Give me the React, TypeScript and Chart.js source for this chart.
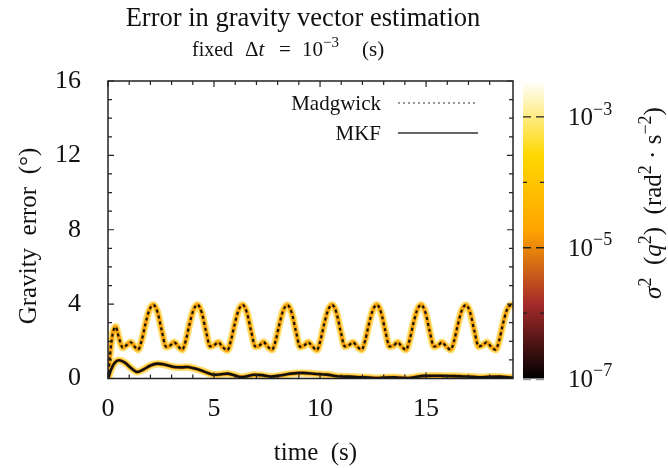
import React, { useEffect, useRef } from 'react';
import { Chart, registerables } from 'chart.js';
Chart.register(...registerables);

// ---- data ----
const madgwickTime = [
  0, 0.1, 0.22, 0.36, 0.5, 0.7, 0.88, 1.07, 1.25,
  1.42, 1.59, 1.76, 1.94, 2.14, 2.34, 2.54, 2.74, 2.94, 3.12, 3.32,
  3.5, 3.67, 3.84, 4.02, 4.22, 4.42, 4.62, 4.82, 5.02, 5.2, 5.4,
  5.63, 5.8, 5.97, 6.15, 6.35, 6.55, 6.75, 6.95, 7.15, 7.33, 7.53,
  7.74, 7.91, 8.08, 8.26, 8.46, 8.66, 8.86, 9.06, 9.26, 9.44, 9.64,
  9.85, 10.02, 10.19, 10.37, 10.57, 10.77, 10.97, 11.17, 11.37, 11.55, 11.75,
  11.96, 12.13, 12.3, 12.48, 12.68, 12.88, 13.08, 13.28, 13.48, 13.66, 13.86,
  14.05, 14.22, 14.39, 14.57, 14.77, 14.97, 15.17, 15.37, 15.57, 15.75, 15.95,
  16.16, 16.33, 16.5, 16.68, 16.88, 17.08, 17.28, 17.48, 17.68, 17.86, 18.06,
  18.28, 18.45, 18.62, 18.8, 19.0, 19.09,
];
const madgwickErr = [
  0, 1.3, 2.4, 2.78, 2.25, 1.65, 1.8, 1.95, 1.72,
  1.55, 2.05, 2.9, 3.65, 3.96, 3.55, 2.55, 1.7, 1.78, 1.95, 1.72,
  1.55, 2.05, 2.9, 3.65, 3.97, 3.55, 2.55, 1.72, 1.8, 1.95, 1.7,
  1.52, 2.05, 2.9, 3.65, 3.96, 3.55, 2.55, 1.72, 1.78, 1.96, 1.72,
  1.55, 2.05, 2.9, 3.65, 3.95, 3.55, 2.55, 1.7, 1.78, 1.95, 1.72,
  1.53, 2.05, 2.9, 3.65, 3.96, 3.55, 2.55, 1.72, 1.8, 1.95, 1.72,
  1.55, 2.05, 2.9, 3.65, 3.96, 3.55, 2.55, 1.72, 1.78, 1.95, 1.7,
  1.54, 2.05, 2.9, 3.65, 3.96, 3.55, 2.55, 1.72, 1.78, 1.95, 1.72,
  1.55, 2.05, 2.9, 3.65, 3.95, 3.55, 2.55, 1.72, 1.8, 1.95, 1.72,
  1.55, 2.05, 2.9, 3.65, 3.95, 3.9,
];
const mkfTime = [
  0, 0.15, 0.3, 0.52, 0.8, 1.1, 1.38, 1.7, 2.0, 2.33, 2.7, 3.11, 3.45, 3.74,
  4.05, 4.37, 4.7, 5.0, 5.3, 5.63, 5.95, 6.26, 6.55, 6.89, 7.25, 7.67, 8.1,
  8.62, 9.17, 9.8, 10.3, 10.94, 11.4, 11.9, 12.3, 12.67, 13.05, 13.46, 13.8,
  14.09, 14.5, 14.87, 15.35, 15.82, 16.3, 16.76, 17.2, 17.55, 18.0, 18.49,
  18.96, 19.09,
];
const mkfErr = [
  0, 0.5, 0.82, 0.98, 0.85, 0.55, 0.35, 0.5, 0.7, 0.8, 0.74, 0.62, 0.6, 0.62,
  0.55, 0.44, 0.3, 0.2, 0.22, 0.26, 0.18, 0.08, 0.12, 0.2, 0.18, 0.1, 0.16,
  0.26, 0.3, 0.24, 0.21, 0.11, 0.1, 0.07, 0.05, 0.02, 0.05, 0.07, 0.04,
  0.02, 0.08, 0.14, 0.15, 0.14, 0.13, 0.11, 0.09, 0.07, 0.09, 0.1,
  0.05, 0.05,
];
const xMajorTicks = [0, 5, 10, 15];
const yMajorTicks = [0, 4, 8, 12, 16];
const cbMajorExponents = [-3, -5, -7];
const cbMinorExponents = [-4, -6];
const seriesNames = ['Madgwick', 'MKF'];

const FAM = '"Liberation Serif", "Times New Roman", "DejaVu Serif", serif';

type Run = { t: string; it?: boolean; sup?: boolean; size?: number };
function drawRuns(ctx: CanvasRenderingContext2D, runs: Run[], x: number, y: number, size: number, align: 'left' | 'center' | 'right') {
  const sz = (r: Run) => r.size ?? size;
  const fontFor = (r: Run) => `${r.it ? 'italic ' : ''}${r.sup ? Math.round(sz(r) * 0.7) : sz(r)}px ${FAM}`;
  const widths: number[] = [];
  let total = 0;
  for (const r of runs) {
    ctx.font = fontFor(r);
    const w = ctx.measureText(r.t).width;
    widths.push(w);
    total += w;
  }
  let cx = align === 'center' ? x - total / 2 : align === 'right' ? x - total : x;
  const base = y + size * 0.33;
  ctx.textAlign = 'left';
  ctx.textBaseline = 'alphabetic';
  runs.forEach((r, i) => {
    ctx.font = fontFor(r);
    ctx.fillText(r.t, cx, r.sup ? base - sz(r) * 0.42 : base);
    cx += widths[i];
  });
}

const decorPlugin = {
  id: 'decor',
  afterDraw(chart: any) {
    const ctx: CanvasRenderingContext2D = chart.ctx;
    const { left, right, top, bottom } = chart.chartArea;
    const xs = chart.scales.x;
    const ys = chart.scales.y;
    const cb = chart.scales.cb;
    ctx.save();
    ctx.fillStyle = '#111';
    ctx.strokeStyle = '#222';

    // frame
    ctx.lineWidth = 1.5;
    ctx.strokeRect(left, top, right - left, bottom - top);

    // inward ticks
    ctx.lineWidth = 1.2;
    ctx.beginPath();
    xs.ticks.forEach((t: any) => {
      const v = t.value;
      if (Math.abs(v - Math.round(v)) > 1e-6) return;
      const px = xs.getPixelForValue(v);
      const len = xMajorTicks.includes(Math.round(v)) ? 6 : 4;
      ctx.moveTo(px, bottom); ctx.lineTo(px, bottom - len);
      ctx.moveTo(px, top); ctx.lineTo(px, top + len);
    });
    ys.ticks.forEach((t: any) => {
      const v = t.value;
      const py = ys.getPixelForValue(v);
      const len = yMajorTicks.includes(Math.round(v)) ? 6 : 4;
      ctx.moveTo(left, py); ctx.lineTo(left + len, py);
      ctx.moveTo(right, py); ctx.lineTo(right - len, py);
    });
    ctx.stroke();

    // colorbar
    const cbL = right + 10, cbR = right + 31;
    const cbTop = cb.getPixelForValue(cb.max), cbBot = cb.getPixelForValue(cb.min);
    const g = ctx.createLinearGradient(0, cbBot, 0, cbTop);
    g.addColorStop(0, '#000000');
    g.addColorStop(0.25, '#a52a2a');
    g.addColorStop(0.5, '#ffa500');
    g.addColorStop(0.75, '#ffd700');
    g.addColorStop(1, '#ffffff');
    ctx.fillStyle = g;
    ctx.fillRect(cbL, cbTop, cbR - cbL, cbBot - cbTop);
    ctx.strokeStyle = '#222';
    ctx.lineWidth = 1.3;
    ctx.beginPath();
    [...cbMajorExponents, ...cbMinorExponents].forEach((e) => {
      if (e === -7) return;
      const py = cb.getPixelForValue(Math.pow(10, e));
      const len = cbMajorExponents.includes(e) ? 8 : 4;
      ctx.moveTo(cbL, py); ctx.lineTo(cbL + len, py);
      ctx.moveTo(cbR, py); ctx.lineTo(cbR - len, py);
    });
    ctx.stroke();
    ctx.strokeStyle = '#999';
    ctx.beginPath();
    const py7 = cb.getPixelForValue(1e-7) + 1;
    ctx.moveTo(cbL, py7); ctx.lineTo(cbL + 8, py7);
    ctx.moveTo(cbR, py7); ctx.lineTo(cbR - 8, py7);
    ctx.stroke();

    ctx.fillStyle = '#111';
    cbMajorExponents.forEach((e) => {
      const py = cb.getPixelForValue(Math.pow(10, e));
      drawRuns(ctx, [{ t: '10' }, { t: '\u2212' + Math.abs(e), sup: true }], right + 55, py, 25, 'left');
    });

    // titles
    drawRuns(ctx, [{ t: 'Error in gravity vector estimation' }], 303, 17, 26.5, 'center');
    // subtitle: "fixed  Δt = 10^-3 (s)"
    drawRuns(ctx, [{ t: 'fixed' }], 192, 49, 20, 'left');
    drawRuns(ctx, [{ t: '\u0394' }, { t: 't', it: true }], 245, 49, 21, 'left');
    drawRuns(ctx, [{ t: '=' }], 279, 49, 21, 'left');
    drawRuns(ctx, [{ t: '10' }, { t: '\u22123', sup: true }], 302, 49, 21, 'left');
    drawRuns(ctx, [{ t: '(s)' }], 362, 49, 21, 'left');

    drawRuns(ctx, [{ t: 'time  (s)' }], (left + right) / 2 + 5, 452, 25, 'center');

    ctx.save();
    ctx.translate(28, 236);
    ctx.rotate(-Math.PI / 2);
    drawRuns(ctx, [{ t: 'Gravity  error  (\u00b0)' }], 0, 0, 25, 'center');
    ctx.restore();

    ctx.save();
    ctx.translate(653, 203);
    ctx.rotate(-Math.PI / 2);
    drawRuns(ctx, [
      { t: '\u03c3', it: true }, { t: '2', sup: true }, { t: '  (' }, { t: 'q', it: true }, { t: '2', sup: true },
      { t: ')  (rad' }, { t: '2', sup: true }, { t: ' \u00b7 s' }, { t: '\u22122', sup: true }, { t: ')' },
    ], 0, 0, 25, 'center');
    ctx.restore();

    // legend
    ctx.fillStyle = '#111';
    drawRuns(ctx, [{ t: seriesNames[0] }], 381, 103, 21, 'right');
    drawRuns(ctx, [{ t: seriesNames[1] }], 381, 133, 21, 'right');
    ctx.strokeStyle = '#333';
    ctx.lineWidth = 1.1;
    ctx.setLineDash([2, 3]);
    ctx.beginPath(); ctx.moveTo(398, 103); ctx.lineTo(477, 103); ctx.stroke();
    ctx.setLineDash([]);
    ctx.lineWidth = 1.3;
    ctx.beginPath(); ctx.moveTo(398, 133); ctx.lineTo(478, 133); ctx.stroke();

    ctx.restore();
  },
};

export default function App() {
  const ref = useRef<HTMLCanvasElement>(null);
  useEffect(() => {
    const mad = madgwickTime.map((t, i) => ({ x: t, y: madgwickErr[i] }));
    const mkf = mkfTime.map((t, i) => ({ x: t, y: mkfErr[i] }));
    const common = { pointRadius: 0, cubicInterpolationMode: 'monotone' as const, borderCapStyle: 'round' as const, borderJoinStyle: 'round' as const, fill: false };
    const chart = new Chart(ref.current as HTMLCanvasElement, {
      type: 'line',
      data: {
        datasets: [
          { ...common, label: seriesNames[0], data: mad, borderColor: '#111', borderWidth: 2.2, borderDash: [3, 3], borderCapStyle: 'butt', order: 0 },
          { ...common, label: seriesNames[1], data: mkf, borderColor: '#111', borderWidth: 2.6, order: 0 },
          { ...common, label: 'mad-core', data: mad, borderColor: '#f5a00a', borderWidth: 4, order: 1 },
          { ...common, label: 'mkf-core', data: mkf, borderColor: '#f5a00a', borderWidth: 4, order: 1 },
          { ...common, label: 'mad-halo', data: mad, borderColor: 'rgba(255,214,70,0.75)', borderWidth: 7.5, order: 2 },
          { ...common, label: 'mkf-halo', data: mkf, borderColor: 'rgba(255,214,70,0.75)', borderWidth: 7.5, order: 2 },
        ],
      },
      options: {
        animation: false,
        responsive: true,
        maintainAspectRatio: false,
        layout: { padding: { top: 81, left: 0, right: 0, bottom: 0 } },
        plugins: { legend: { display: false }, tooltip: { enabled: false }, title: { display: false } },
        scales: {
          x: {
            type: 'linear', min: 0, max: 19.1,
            grid: { display: false }, border: { display: false },
            ticks: {
              stepSize: 1, autoSkip: false, maxRotation: 0, padding: 7,
              font: { family: FAM, size: 26 }, color: '#111',
              callback: (v: any) => (xMajorTicks.includes(Number(v)) ? String(v) : ''),
            },
            afterFit: (s: any) => { s.height = 89.5; },
          },
          y: {
            type: 'linear', min: 0, max: 16, position: 'left',
            grid: { display: false }, border: { display: false },
            ticks: {
              stepSize: 1, autoSkip: false, padding: 19,
              font: { family: FAM, size: 26 }, color: '#111',
              callback: (v: any) => (yMajorTicks.includes(Number(v)) ? String(v) : ''),
            },
            afterFit: (s: any) => { s.width = 108; },
          },
          cb: {
            type: 'logarithmic', min: 1e-7, max: 3.55e-3, position: 'right', bounds: 'data',
            grid: { display: false }, border: { display: false },
            ticks: { display: false },
            afterFit: (s: any) => { s.width = 155; },
          },
        },
      } as any,
      plugins: [decorPlugin],
    });
    return () => chart.destroy();
  }, []);
  return (
    <div style={{ position: 'fixed', left: 0, top: 0, width: 668, height: 468, background: '#fff' }}>
      <canvas ref={ref} />
    </div>
  );
}
